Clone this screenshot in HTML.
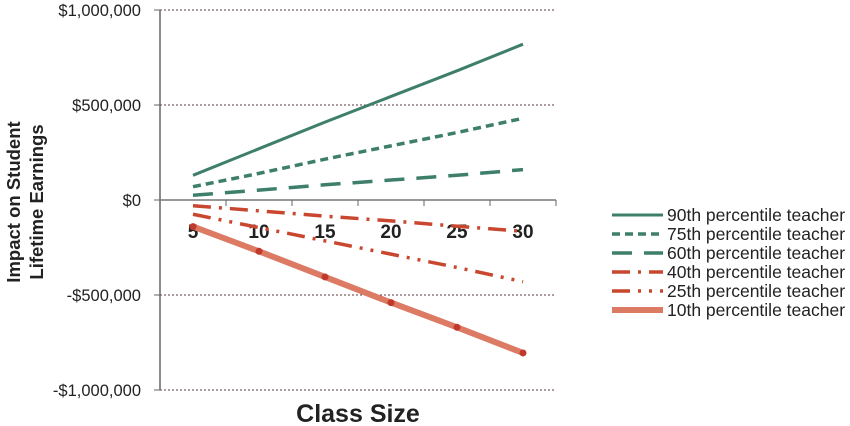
<!DOCTYPE html>
<html><head><meta charset="utf-8"><style>
body{margin:0;background:#fff}
svg{display:block;font-family:"Liberation Sans",sans-serif}
</style></head><body>
<svg id="chart" width="850" height="426">
<g id="grid"></g><g id="axes"></g><g id="series"></g><g id="legend"></g>
<text x="358" y="422" text-anchor="middle" font-size="25" font-weight="bold" fill="#222">Class Size</text>
<text transform="translate(20,202) rotate(-90)" text-anchor="middle" font-size="18.5" font-weight="bold" fill="#222"><tspan x="0" dy="0">Impact on Student</tspan><tspan x="0" dy="23">Lifetime Earnings</tspan></text>
</svg>
<script>
const categories=[5,10,15,20,25,30];
const seriesNames=["90th percentile teacher","75th percentile teacher","60th percentile teacher","40th percentile teacher","25th percentile teacher","10th percentile teacher"];
const s90=[130000,270000,410000,545000,680000,820000];
const s75=[70000,140000,215000,285000,355000,430000];
const s60=[25000,52000,80000,105000,130000,160000];
const s40=[-30000,-57000,-85000,-110000,-138000,-165000];
const s25=[-75000,-145000,-215000,-285000,-355000,-430000];
const s10=[-140000,-270000,-405000,-540000,-670000,-805000];
const yTicks=[1000000,500000,0,-500000,-1000000];
const yTickLabels=["$1,000,000","$500,000","$0","-$500,000","-$1,000,000"];
const NS="http://www.w3.org/2000/svg";
const x0=160,x1=556,catW=66;
const xs=i=>x0+catW/2+i*catW;
const ys=v=>200-v*190/1000000;
function mk(t,a,p){const e=document.createElementNS(NS,t);for(const k in a)e.setAttribute(k,a[k]);p.appendChild(e);return e;}
const grid=document.getElementById('grid'),axes=document.getElementById('axes'),ser=document.getElementById('series'),leg=document.getElementById('legend');
yTicks.forEach((v,i)=>{
 if(v!==0){const g=mk('line',{x1:x0,x2:x1,y1:ys(v),y2:ys(v),stroke:'#5a3a3a','stroke-width':1,'stroke-dasharray':'2,2'},grid);
 
 }
 const t=mk('line',{x1:154,x2:x0,y1:ys(v),y2:ys(v),stroke:'#666'},axes);
 
 
 const l=mk('text',{x:141,y:ys(v)+6,'text-anchor':'end','font-size':16.5,fill:'#222'},axes);l.textContent=yTickLabels[i];
 
 
});
const ya=mk('line',{x1:x0,x2:x0,y1:ys(1000000),y2:ys(-1000000),stroke:'#666','stroke-width':1.5},axes);


const xa=mk('line',{x1:x0,x2:x1,y1:200,y2:200,stroke:'#777','stroke-width':1.5},axes);


for(let i=1;i<=categories.length;i++){const t=mk('line',{x1:x0+i*catW,x2:x0+i*catW,y1:200,y2:206,stroke:'#666'},axes);
 
 }
categories.forEach((c,i)=>{const t=mk('text',{x:xs(i),y:238,'text-anchor':'middle','font-size':19,'font-weight':'bold',fill:'#222'},axes);t.textContent=c;
 
 });
const G='#3e7f6c',R='#c9472f',R2='#dc7a64';
const styles=[
 {d:s90,c:G,w:3,da:''},{d:s75,c:G,w:3.5,da:'8,5'},{d:s60,c:G,w:3.5,da:'20,12'},
 {d:s40,c:R,w:3.5,da:'18,8,3,8'},{d:s25,c:R,w:3.5,da:'18,8,3,8,3,8'},{d:s10,c:R2,w:6,da:''}];
const names=['line-90th','line-75th','line-60th','line-40th','line-25th','line-10th'];
styles.forEach((s,k)=>{
 const p=mk('polyline',{points:s.d.map((v,i)=>xs(i)+','+ys(v)).join(' '),fill:'none',stroke:s.c,'stroke-width':s.w,'stroke-dasharray':s.da},ser);
 
 
 if(k===5)s.d.forEach((v,i)=>{const c=mk('circle',{cx:xs(i),cy:ys(v),r:3.5,fill:'#c0392b'},ser);
  
  });
 const ly=215+k*19;
 const ll=mk('line',{x1:612,x2:663,y1:ly,y2:ly,stroke:s.c,'stroke-width':s.w,'stroke-dasharray':s.da},leg);
 
 
 const lt=mk('text',{x:667,y:ly+6,'font-size':17.5,fill:'#222'},leg);lt.textContent=seriesNames[k];
 
 
});
</script>
</body></html>
